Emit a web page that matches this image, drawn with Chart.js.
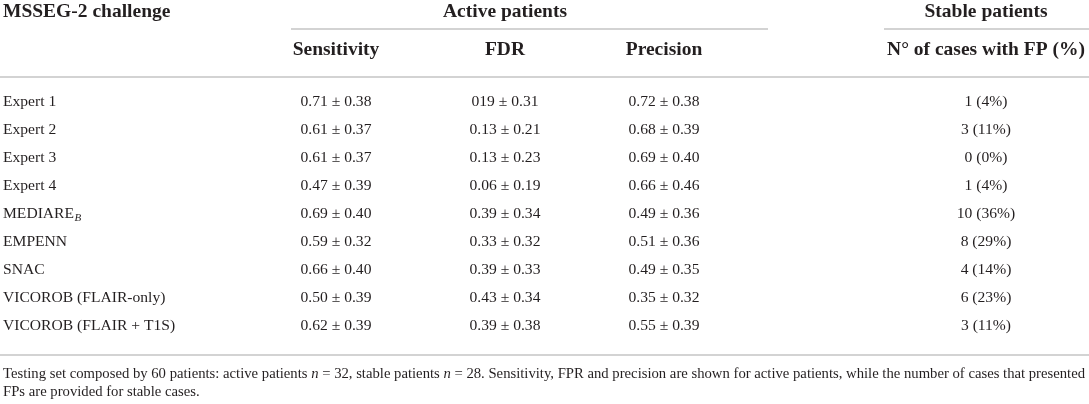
<!DOCTYPE html>
<html>
<head>
<meta charset="utf-8">
<script src="https://cdn.jsdelivr.net/npm/chart.js@4.4.1/dist/chart.umd.min.js"></script>
<style>
  html, body { margin: 0; padding: 0; background: #ffffff; }
  #wrap { width: 1089px; height: 404px; }
</style>
</head>
<body>
<div id="wrap"><canvas id="c" width="1089" height="404"></canvas></div>
<script>
// ---------------- data ----------------
const tableTitle = "MSSEG-2 challenge";
const groupHeaders = ["Active patients", "Stable patients"];
const columnHeaders = ["Sensitivity", "FDR", "Precision", "N\u00B0 of cases with FP (%)"];
const methods = ["Expert 1", "Expert 2", "Expert 3", "Expert 4", "MEDIARE", "EMPENN", "SNAC",
                 "VICOROB (FLAIR-only)", "VICOROB (FLAIR + T1S)"];
const methodSubscripts = ["", "", "", "", "B", "", "", "", ""];
const sensitivityMean = [0.71, 0.61, 0.61, 0.47, 0.69, 0.59, 0.66, 0.50, 0.62];
const sensitivitySD   = [0.38, 0.37, 0.37, 0.39, 0.40, 0.32, 0.40, 0.39, 0.39];
const fdrMean         = [0.19, 0.13, 0.13, 0.06, 0.39, 0.33, 0.39, 0.43, 0.39];
const fdrSD           = [0.31, 0.21, 0.23, 0.19, 0.34, 0.32, 0.33, 0.34, 0.38];
const precisionMean   = [0.72, 0.68, 0.69, 0.66, 0.49, 0.51, 0.49, 0.35, 0.55];
const precisionSD     = [0.38, 0.39, 0.40, 0.46, 0.36, 0.36, 0.35, 0.32, 0.39];
const fpCases         = [1, 3, 0, 1, 10, 8, 4, 6, 3];
const fpPercent       = [4, 11, 0, 4, 36, 29, 14, 23, 11];
// the source table prints the first FDR mean as "019"
const printedOverrides = { "fdr-0": "019" };
// text between underscores is italic
const footnoteLines = [
  "Testing set composed by 60 patients: active patients _n_ = 32, stable patients _n_ = 28. Sensitivity, FPR and precision are shown for active patients, while the number of cases that presented",
  "FPs are provided for stable cases."
];

// ---------------- layout (not data) ----------------
const LAYOUT = {
  colCenters: [3, 336, 505, 664, 986],   // x-scale units: label column (left edge) + 4 value columns
  groupRules: [[291, 768], [884, 1089]],
  serif: "'Liberation Serif', 'DejaVu Serif', serif",
  bodySize: 15.6, headSize: 19.5, noteSize: 14.7,
  text: "#231f20", rule: "#c4c4c4"
};

const fmt = v => v.toFixed(2);
const pm = (key, i, m, s) => (printedOverrides[key + "-" + i] || fmt(m[i])) + " \u00B1 " + fmt(s[i]);

const colText = [
  methods.slice(),
  methods.map((_, i) => pm("sens", i, sensitivityMean, sensitivitySD)),
  methods.map((_, i) => pm("fdr", i, fdrMean, fdrSD)),
  methods.map((_, i) => pm("prec", i, precisionMean, precisionSD)),
  methods.map((_, i) => fpCases[i] + " (" + fpPercent[i] + "%)")
];

const datasets = colText.map((texts, c) => ({
  label: c === 0 ? tableTitle : columnHeaders[c - 1],
  data: methods.map(m => ({ x: LAYOUT.colCenters[c], y: m })),
  texts: texts,
  pointRadius: 0,
  pointHoverRadius: 0,
  showLine: false
}));

const tablePlugin = {
  id: "tableText",
  afterDatasetsDraw(chart) {
    const ctx = chart.ctx;
    const xs = chart.scales.x;
    const area = chart.chartArea;
    const W = chart.width;
    ctx.save();
    ctx.fillStyle = LAYOUT.text;
    ctx.textBaseline = "middle";

    // body cells, positioned by the library's scales
    chart.data.datasets.forEach((ds, c) => {
      const meta = chart.getDatasetMeta(c);
      ctx.textAlign = c === 0 ? "left" : "center";
      meta.data.forEach((pt, i) => {
        const t = ds.texts[i];
        ctx.font = LAYOUT.bodySize + "px " + LAYOUT.serif;
        ctx.fillText(t, pt.x, pt.y);
        if (c === 0 && methodSubscripts[i]) {
          const w = ctx.measureText(t).width;
          ctx.font = "italic " + Math.round(LAYOUT.bodySize * 0.68) + "px " + LAYOUT.serif;
          ctx.fillText(methodSubscripts[i], pt.x + w + 0.5, pt.y + 4.5);
        }
      });
    });

    // header texts
    const top = area.top;
    const yTitle = top - 76;
    const ySub = top - 38;
    ctx.font = "bold " + LAYOUT.headSize + "px " + LAYOUT.serif;
    ctx.textAlign = "left";
    ctx.fillText(tableTitle, xs.getPixelForValue(LAYOUT.colCenters[0]), yTitle);
    ctx.textAlign = "center";
    ctx.fillText(groupHeaders[0], xs.getPixelForValue(LAYOUT.colCenters[2]), yTitle);
    ctx.fillText(groupHeaders[1], xs.getPixelForValue(LAYOUT.colCenters[4]), yTitle);
    columnHeaders.forEach((h, k) => {
      ctx.fillText(h, xs.getPixelForValue(LAYOUT.colCenters[k + 1]), ySub);
    });

    // rules
    ctx.strokeStyle = LAYOUT.rule;
    ctx.lineWidth = 1.5;
    const hline = (x0, x1, y) => { ctx.beginPath(); ctx.moveTo(x0, y); ctx.lineTo(x1, y); ctx.stroke(); };
    LAYOUT.groupRules.forEach(r => hline(xs.getPixelForValue(r[0]), xs.getPixelForValue(r[1]), top - 59));
    hline(0, W, top - 11);
    hline(0, W, area.bottom + 15);

    // footnote (with italic segments)
    ctx.textAlign = "left";
    footnoteLines.forEach((line, k) => {
      let x = xs.getPixelForValue(LAYOUT.colCenters[0]);
      const y = area.bottom + 34 + 18.5 * k;
      line.split("_").forEach((seg, j) => {
        ctx.font = (j % 2 ? "italic " : "") + LAYOUT.noteSize + "px " + LAYOUT.serif;
        ctx.fillText(seg, x, y);
        x += ctx.measureText(seg).width;
      });
    });
    ctx.restore();
  }
};

const bgPlugin = {
  id: "bg",
  beforeDraw(chart) {
    const ctx = chart.ctx;
    ctx.save(); ctx.fillStyle = "#ffffff"; ctx.fillRect(0, 0, chart.width, chart.height); ctx.restore();
  }
};

new Chart(document.getElementById("c"), {
  type: "scatter",
  data: { datasets },
  options: {
    responsive: false,
    animation: false,
    events: [],
    layout: { padding: { top: 88, bottom: 64, left: 0, right: 0 } },
    plugins: { legend: { display: false }, tooltip: { enabled: false } },
    scales: {
      x: { type: "linear", min: 0, max: 1089, display: false },
      y: { type: "category", labels: methods, offset: true, display: false }
    }
  },
  plugins: [bgPlugin, tablePlugin]
});
</script>
</body>
</html>
